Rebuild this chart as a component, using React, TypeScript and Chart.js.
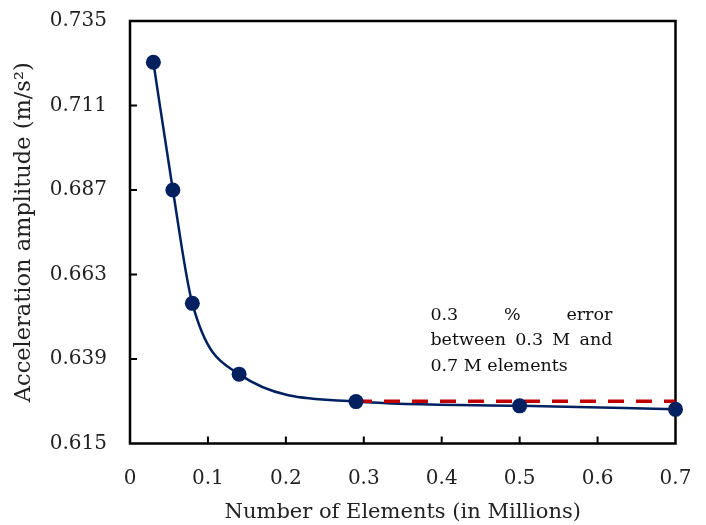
import React, { useEffect, useRef } from "react";
import { Chart, registerables } from "chart.js";

Chart.register(...registerables);

// ---- data ----
const elementsMillions = [0.03, 0.055, 0.08, 0.14, 0.29, 0.5, 0.7];
const accelAmplitude = [0.7233, 0.687, 0.6548, 0.6347, 0.6269, 0.6257, 0.6247];
const errorLineX = [0.29, 0.7];
const errorLineY = [0.627, 0.627];
const xTickValues = [0, 0.1, 0.2, 0.3, 0.4, 0.5, 0.6, 0.7];
const yTickValues = [0.615, 0.639, 0.663, 0.687, 0.711, 0.735];
const annotationLines = ["0.3 % error", "between 0.3 M and", "0.7 M elements"];
const annotationAnchor = { xStart: 0.3855, xEnd: 0.619, yTop: 0.6515 };

const FONT = "'DejaVu Serif', serif";
const NAVY = "#002060";
const RED = "#C00000";

const boxPlugin = {
  id: "boxTicks",
  beforeDatasetsDraw(chart: any) {
    const { ctx, chartArea: a, scales } = chart;
    ctx.save();
    ctx.strokeStyle = "#000";
    ctx.lineWidth = 2.5;
    ctx.strokeRect(a.left, a.top, a.right - a.left, a.bottom - a.top);
    ctx.lineWidth = 2;
    const tl = 7;
    ctx.beginPath();
    xTickValues.slice(1, -1).forEach((v) => {
      const px = scales.x.getPixelForValue(v);
      ctx.moveTo(px, a.bottom);
      ctx.lineTo(px, a.bottom - tl);
    });
    yTickValues.slice(1, -1).forEach((v) => {
      const py = scales.y.getPixelForValue(v);
      ctx.moveTo(a.left, py);
      ctx.lineTo(a.left + tl, py);
    });
    ctx.stroke();
    ctx.restore();
  },
  afterDraw(chart: any) {
    const { ctx, scales } = chart;
    const x0 = scales.x.getPixelForValue(annotationAnchor.xStart);
    const x1 = scales.x.getPixelForValue(annotationAnchor.xEnd);
    const y0 = scales.y.getPixelForValue(annotationAnchor.yTop);
    const lh = 25.5;
    ctx.save();
    ctx.font = `17.5px ${FONT}`;
    ctx.fillStyle = "#111";
    ctx.textBaseline = "middle";
    ctx.textAlign = "left";
    annotationLines.forEach((line, i) => {
      const y = y0 + i * lh;
      const words = line.split(" ");
      if (i === annotationLines.length - 1 || words.length < 2) {
        ctx.fillText(line, x0, y);
        return;
      }
      const wordsW = words.reduce((s, w) => s + ctx.measureText(w).width, 0);
      const gap = (x1 - x0 - wordsW) / (words.length - 1);
      let x = x0;
      words.forEach((w) => {
        ctx.fillText(w, x, y);
        x += ctx.measureText(w).width + gap;
      });
    });
    ctx.restore();
  },
};

export default function App() {
  const ref = useRef<HTMLCanvasElement>(null);
  useEffect(() => {
    document.body.style.margin = "0";
    const pts = elementsMillions.map((x, i) => ({ x, y: accelAmplitude[i] }));
    const errPts = errorLineX.map((x, i) => ({ x, y: errorLineY[i] }));
    const chart = new Chart(ref.current as HTMLCanvasElement, {
      type: "scatter",
      data: {
        datasets: [
          {
            data: pts,
            showLine: true,
            borderColor: NAVY,
            borderWidth: 2.5,
            pointRadius: 0,
            cubicInterpolationMode: "monotone",
            order: 3,
            clip: false,
          } as any,
          {
            data: errPts,
            showLine: true,
            borderColor: RED,
            borderWidth: 3.5,
            borderDash: [16, 12],
            pointRadius: 0,
            order: 2,
            clip: false,
          } as any,
          {
            data: pts,
            showLine: false,
            pointRadius: 7.5,
            pointBackgroundColor: NAVY,
            pointBorderColor: NAVY,
            pointBorderWidth: 0,
            order: 1,
            clip: false,
          } as any,
        ],
      },
      options: {
        responsive: false,
        animation: false,
        devicePixelRatio: 1,
        layout: { padding: { top: 21, right: 30.5, left: 0, bottom: 0 } },
        plugins: { legend: { display: false }, tooltip: { enabled: false } },
        scales: {
          x: {
            type: "linear",
            min: 0,
            max: 0.7,
            afterBuildTicks: (s: any) => {
              s.ticks = xTickValues.map((v) => ({ value: v }));
            },
            afterFit: (s: any) => {
              s.height = 81.5;
              s.paddingLeft = 0;
              s.paddingRight = 0;
            },
            grid: { display: false, drawTicks: false },
            border: { display: false },
            ticks: {
              padding: 23,
              color: "#222",
              font: { family: FONT, size: 20 },
              callback: (v: any) => String(Number(v)),
            },
            title: {
              display: true,
              text: "Number of Elements (in Millions)",
              color: "#222",
              font: { family: FONT, size: 21 },
              padding: { top: 0, bottom: 0 },
            },
          },
          y: {
            type: "linear",
            min: 0.615,
            max: 0.735,
            afterBuildTicks: (s: any) => {
              s.ticks = yTickValues.map((v) => ({ value: v }));
            },
            afterFit: (s: any) => {
              s.width = 130;
              s.paddingTop = 0;
              s.paddingBottom = 0;
            },
            grid: { display: false, drawTicks: false },
            border: { display: false },
            ticks: {
              padding: 23,
              color: "#222",
              font: { family: FONT, size: 20 },
              callback: (v: any) => Number(v).toFixed(3),
            },
            title: {
              display: true,
              text: "Acceleration amplitude (m/s²)",
              color: "#222",
              font: { family: FONT, size: 22.5 },
              padding: { top: 11, bottom: 0 },
            },
          },
        },
      },
      plugins: [boxPlugin],
    });
    return () => chart.destroy();
  }, []);
  return <canvas ref={ref} width={706} height={525} style={{ display: "block" }} />;
}
